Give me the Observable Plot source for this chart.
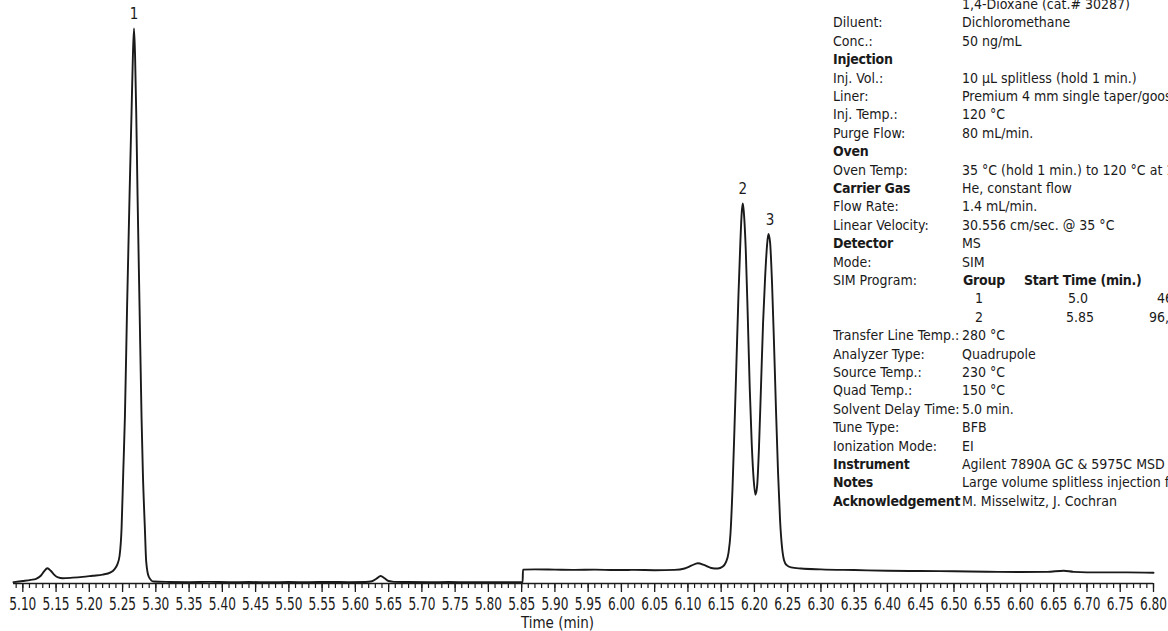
<!DOCTYPE html>
<html>
<head>
<meta charset="utf-8">
<script src="https://cdn.jsdelivr.net/npm/d3@7"></script>
<script src="https://cdn.jsdelivr.net/npm/@observablehq/plot@0.6"></script>
<style>
  html, body { margin: 0; padding: 0; background: #fff; overflow: hidden; }
  #wrap { position: relative; width: 1168px; height: 631px; overflow: hidden; }
  #info { position: absolute; left: 833px; top: 0; width: 335px; height: 631px; overflow: hidden;
          font-family: "DejaVu Sans Condensed", sans-serif; font-size: 14px; color: #1a1a1a; }
  #info .row { position: absolute; left: 0; width: 600px; white-space: nowrap; line-height: 18px; height: 18px; }
  #info .row span { position: absolute; top: 0; }
  #info .b { font-weight: bold; letter-spacing: -0.25px; }
</style>
</head>
<body>
<div id="wrap">
  <div id="chart"></div>
  <div id="info"></div>
</div>
<script>
// ---- chromatogram (retention time in min, relative abundance) ----
const chromTime = [
  5.086, 5.100, 5.112, 5.120, 5.127, 5.132, 5.137, 5.142, 5.147, 5.153, 5.160, 5.175, 5.190, 5.205, 5.220,
  5.232, 5.238, 5.242, 5.2455, 5.2485, 5.251, 5.2535, 5.2568, 5.2605, 5.2635, 5.2655, 5.2672,
  5.2688, 5.2705, 5.2725, 5.2755, 5.2785, 5.2805, 5.2835, 5.2855, 5.2895, 5.2965,
  5.320, 5.350, 5.380, 5.410, 5.440, 5.470, 5.500, 5.530, 5.560, 5.590, 5.615,
  5.625, 5.632, 5.638, 5.644, 5.650, 5.658, 5.680, 5.710, 5.740, 5.770, 5.800, 5.830, 5.8515,
  5.852, 5.870, 5.900, 5.930, 5.960, 5.990, 6.020, 6.050, 6.080, 6.095, 6.105, 6.115, 6.125, 6.135, 6.145,
  6.152, 6.157, 6.161, 6.164, 6.167, 6.170, 6.173, 6.176, 6.179, 6.181, 6.1825, 6.184, 6.187, 6.190,
  6.193, 6.196, 6.199, 6.2015, 6.204, 6.207, 6.210, 6.213, 6.216, 6.219, 6.221, 6.2235, 6.2265,
  6.2295, 6.2325, 6.2355, 6.2385, 6.2415, 6.2445, 6.2485, 6.255, 6.270, 6.300, 6.350, 6.400, 6.450,
  6.500, 6.550, 6.600, 6.640, 6.665, 6.680, 6.720, 6.760, 6.800
];
const chromAbund = [
  0.25, 0.45, 0.65, 0.85, 1.4, 2.2, 2.75, 2.3, 1.6, 1.1, 0.95, 1.05, 1.2, 1.4, 1.6,
  2.0, 2.6, 3.4, 5.0, 10, 20, 30, 50, 70, 85, 95, 100,
  95, 85, 70, 50, 30, 20, 10, 4, 1.2, 0.35,
  0.28, 0.25, 0.30, 0.24, 0.27, 0.22, 0.26, 0.24, 0.28, 0.25, 0.27,
  0.4, 0.9, 1.35, 0.95, 0.45, 0.3, 0.26, 0.24, 0.27, 0.23, 0.25, 0.24, 0.25,
  2.5, 2.55, 2.5, 2.45, 2.5, 2.42, 2.45, 2.4, 2.45, 2.7, 3.2, 3.65, 3.3, 2.8, 2.7,
  3.0, 3.8, 5.5, 9, 17, 28, 40, 52, 62, 67, 68.5, 67, 60,
  48, 35, 25, 18.5, 16, 17.5, 25, 36, 47, 55, 61, 63, 61.5,
  54, 43, 31, 20, 11.5, 6.5, 4.2, 3.3, 2.9, 2.7, 2.55, 2.42, 2.3, 2.25,
  2.2, 2.12, 2.08, 2.1, 2.3, 2.1, 2.0, 2.0, 1.95
];

// ---- peak labels ----
const peakLabels = ["1", "2", "3"];
const peakTimes = [5.2672, 6.1825, 6.2235];
const peakAbund = [100, 68.5, 63];

// ---- axis ticks ----
const majorTicks = [5.10, 5.15, 5.20, 5.25, 5.30, 5.35, 5.40, 5.45, 5.50, 5.55, 5.60, 5.65, 5.70, 5.75,
  5.80, 5.85, 5.90, 5.95, 6.00, 6.05, 6.10, 6.15, 6.20, 6.25, 6.30, 6.35, 6.40, 6.45, 6.50, 6.55, 6.60,
  6.65, 6.70, 6.75, 6.80];
const majorTickLabels = ["5.10", "5.15", "5.20", "5.25", "5.30", "5.35", "5.40", "5.45", "5.50", "5.55",
  "5.60", "5.65", "5.70", "5.75", "5.80", "5.85", "5.90", "5.95", "6.00", "6.05", "6.10", "6.15", "6.20",
  "6.25", "6.30", "6.35", "6.40", "6.45", "6.50", "6.55", "6.60", "6.65", "6.70", "6.75", "6.80"];
const minorTicks = d3.range(509, 681).map(d => d / 100);
const xTitle = "Time (min)";

// ---- conditions block ----
const infoLabels = ["", "Diluent:", "Conc.:", "Injection", "Inj. Vol.:", "Liner:", "Inj. Temp.:", "Purge Flow:",
  "Oven", "Oven Temp:", "Carrier Gas", "Flow Rate:", "Linear Velocity:", "Detector", "Mode:", "SIM Program:",
  "", "", "Transfer Line Temp.:", "Analyzer Type:", "Source Temp.:", "Quad Temp.:", "Solvent Delay Time:",
  "Tune Type:", "Ionization Mode:", "Instrument", "Notes", "Acknowledgement"];
const infoValues = ["1,4-Dioxane (cat.# 30287)", "Dichloromethane", "50 ng/mL", "", "10 µL splitless (hold 1 min.)",
  "Premium 4 mm single taper/gooseneck w/ wool (cat.# 23303.1)", "120 °C", "80 mL/min.", "",
  "35 °C (hold 1 min.) to 120 °C at 12 °C/min. (hold 0 min.)", "He, constant flow", "1.4 mL/min.",
  "30.556 cm/sec. @ 35 °C", "MS", "SIM", "", "", "", "280 °C", "Quadrupole", "230 °C", "150 °C", "5.0 min.",
  "BFB", "EI", "Agilent 7890A GC & 5975C MSD", "Large volume splitless injection for trace analysis", "M. Misselwitz, J. Cochran"];
const infoBoldLabels = ["Injection", "Oven", "Carrier Gas", "Detector", "Instrument", "Notes", "Acknowledgement"];
const simHeader = ["Group", "Start Time (min.)", "Ions"];
const simGroups = ["1", "2"];
const simStart = ["5.0", "5.85"];
const simIons = ["46,58,88", "96,88,64"];

// ---- chart ----
const data = chromTime.map((t, i) => ({t, v: chromAbund[i]}));
const peaks = peakLabels.map((label, i) => ({label, t: peakTimes[i], v: peakAbund[i]}));
const font = '"DejaVu Sans Condensed", sans-serif';

const chart = Plot.plot({
  width: 1168,
  height: 631,
  marginTop: 28,
  marginBottom: 48,
  marginLeft: 13,
  marginRight: 15,
  x: {domain: [chromTime[0], majorTicks[majorTicks.length - 1]], axis: null},
  y: {domain: [0, 100], axis: null},
  style: {fontFamily: font, fontSize: "16px", color: "#1a1a1a", background: "white"},
  marks: [
    Plot.axisX({ticks: minorTicks, tickSize: 5, tickFormat: () => "", strokeWidth: 1.2, stroke: "#1a1a1a", label: null}),
    Plot.axisX({ticks: majorTicks, tickSize: 9, tickPadding: 5,
      tickFormat: d => majorTickLabels[majorTicks.findIndex(m => Math.abs(m - d) < 1e-6)],
      strokeWidth: 1.3, stroke: "#1a1a1a", fill: "#1a1a1a", label: null}),
    Plot.ruleY([0], {stroke: "#1a1a1a", strokeWidth: 1.4}),
    Plot.line(data, {x: "t", y: "v", curve: "monotone-x", stroke: "#1a1a1a", strokeWidth: 1.9}),
    Plot.text(peaks, {x: "t", y: "v", text: "label", dy: -14, fontSize: 15, fill: "#1a1a1a"}),
    Plot.text([xTitle], {frameAnchor: "bottom", lineAnchor: "top", dy: 34, dx: -26, fontSize: 15, fill: "#1a1a1a"})
  ]
});
// condense the tick labels horizontally (narrow typeface in the original)
chart.querySelectorAll("text").forEach(t => {
  if (majorTickLabels.includes(t.textContent)) {
    t.style.fontSize = "17px";
    t.setAttribute("textLength", 27);
    t.setAttribute("lengthAdjust", "spacingAndGlyphs");
  }
});
document.getElementById("chart").appendChild(chart);

// ---- info block (HTML text) ----
const info = document.getElementById("info");
const rowStep = 18.4, rowCenter0 = 4;
function addRow(i, cells) {
  const row = document.createElement("div");
  row.className = "row";
  row.style.top = (rowCenter0 + i * rowStep - 9) + "px";
  for (const [text, left, bold] of cells) {
    const s = document.createElement("span");
    s.textContent = text;
    s.style.left = left + "px";
    if (bold) s.className = "b";
    row.appendChild(s);
  }
  info.appendChild(row);
}
infoLabels.forEach((lab, i) => {
  if (i === 16 || i === 17) return;
  const cells = [];
  if (lab) cells.push([lab, 0, infoBoldLabels.includes(lab)]);
  if (i === 15) {
    cells.push([simHeader[0], 130, true]);
    cells.push([simHeader[1], 191, true]);
    cells.push([simHeader[2], 345, true]);
  } else if (infoValues[i]) {
    cells.push([infoValues[i], 129, false]);
  }
  addRow(i, cells);
});
simGroups.forEach((g, k) => {
  addRow(16 + k, [[g, 142, false], [simStart[k], k === 0 ? 235 : 233, false], [simIons[k], k === 0 ? 324 : 316, false]]);
});
</script>
</body>
</html>
